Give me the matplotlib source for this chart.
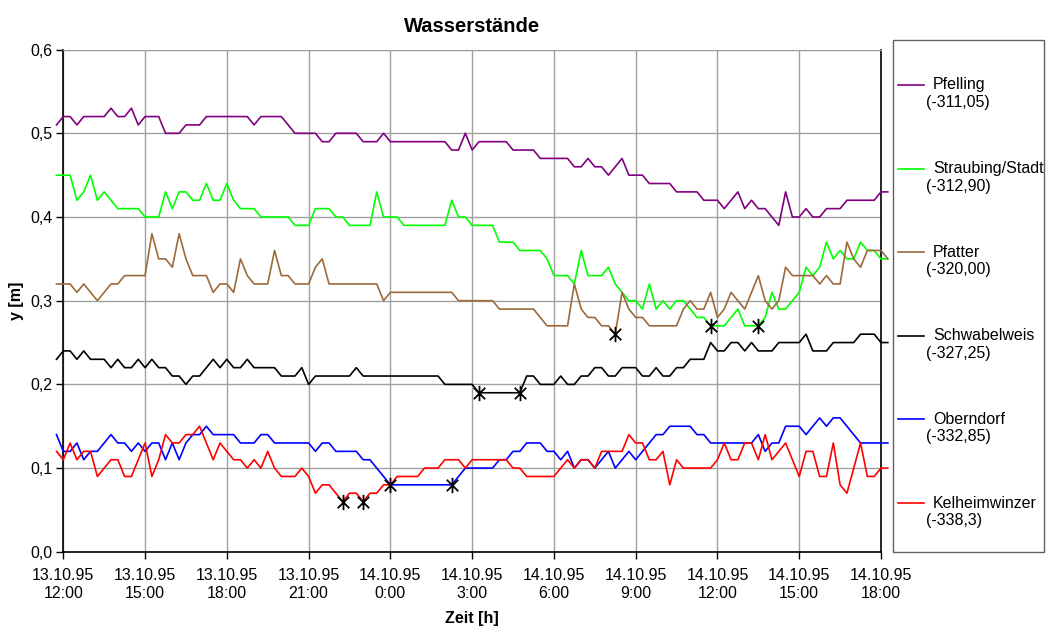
import numpy as np
import matplotlib
matplotlib.use("Agg")
import matplotlib.pyplot as plt
from matplotlib.lines import Line2D
from matplotlib.patches import Rectangle
from matplotlib.path import Path

plt.rcParams['font.family'] = ['Liberation Sans', 'DejaVu Sans']

# 15-minute readings, first one at 13.10.95 11:45, last at 14.10.95 18:15
pfelling = [0.51,
            0.52, 0.52, 0.51, 0.52, 0.52, 0.52, 0.52, 0.53, 0.52, 0.52, 0.53, 0.51,
            0.52, 0.52, 0.52, 0.50, 0.50, 0.50, 0.51, 0.51, 0.51, 0.52, 0.52, 0.52,
            0.52, 0.52, 0.52, 0.52, 0.51, 0.52, 0.52, 0.52, 0.52, 0.51, 0.50, 0.50,
            0.50, 0.50, 0.49, 0.49, 0.50, 0.50, 0.50, 0.50, 0.49, 0.49, 0.49, 0.50,
            0.49, 0.49, 0.49, 0.49, 0.49, 0.49, 0.49, 0.49, 0.49, 0.48, 0.48, 0.50,
            0.48, 0.49, 0.49, 0.49, 0.49, 0.49, 0.48, 0.48, 0.48, 0.48, 0.47, 0.47,
            0.47, 0.47, 0.47, 0.46, 0.46, 0.47, 0.46, 0.46, 0.45, 0.46, 0.47, 0.45,
            0.45, 0.45, 0.44, 0.44, 0.44, 0.44, 0.43, 0.43, 0.43, 0.43, 0.42, 0.42,
            0.42, 0.41, 0.42, 0.43, 0.41, 0.42, 0.41, 0.41, 0.40, 0.39, 0.43, 0.40,
            0.40, 0.41, 0.40, 0.40, 0.41, 0.41, 0.41, 0.42, 0.42, 0.42, 0.42, 0.42,
            0.43, 0.43]

straubing = [0.45,
             0.45, 0.45, 0.42, 0.43, 0.45, 0.42, 0.43, 0.42, 0.41, 0.41, 0.41, 0.41,
             0.40, 0.40, 0.40, 0.43, 0.41, 0.43, 0.43, 0.42, 0.42, 0.44, 0.42, 0.42,
             0.44, 0.42, 0.41, 0.41, 0.41, 0.40, 0.40, 0.40, 0.40, 0.40, 0.39, 0.39,
             0.39, 0.41, 0.41, 0.41, 0.40, 0.40, 0.39, 0.39, 0.39, 0.39, 0.43, 0.40,
             0.40, 0.40, 0.39, 0.39, 0.39, 0.39, 0.39, 0.39, 0.39, 0.42, 0.40, 0.40,
             0.39, 0.39, 0.39, 0.39, 0.37, 0.37, 0.37, 0.36, 0.36, 0.36, 0.36, 0.35,
             0.33, 0.33, 0.33, 0.32, 0.36, 0.33, 0.33, 0.33, 0.34, 0.32, 0.31, 0.30,
             0.30, 0.29, 0.32, 0.29, 0.30, 0.29, 0.30, 0.30, 0.29, 0.28, 0.28, 0.27,
             0.27, 0.27, 0.28, 0.29, 0.27, 0.27, 0.27, 0.28, 0.31, 0.29, 0.29, 0.30,
             0.31, 0.34, 0.33, 0.34, 0.37, 0.35, 0.36, 0.35, 0.35, 0.37, 0.36, 0.36,
             0.35, 0.35]

pfatter = [0.32,
           0.32, 0.32, 0.31, 0.32, 0.31, 0.30, 0.31, 0.32, 0.32, 0.33, 0.33, 0.33,
           0.33, 0.38, 0.35, 0.35, 0.34, 0.38, 0.35, 0.33, 0.33, 0.33, 0.31, 0.32,
           0.32, 0.31, 0.35, 0.33, 0.32, 0.32, 0.32, 0.36, 0.33, 0.33, 0.32, 0.32,
           0.32, 0.34, 0.35, 0.32, 0.32, 0.32, 0.32, 0.32, 0.32, 0.32, 0.32, 0.30,
           0.31, 0.31, 0.31, 0.31, 0.31, 0.31, 0.31, 0.31, 0.31, 0.31, 0.30, 0.30,
           0.30, 0.30, 0.30, 0.30, 0.29, 0.29, 0.29, 0.29, 0.29, 0.29, 0.28, 0.27,
           0.27, 0.27, 0.27, 0.32, 0.29, 0.28, 0.28, 0.27, 0.27, 0.26, 0.31, 0.29,
           0.28, 0.28, 0.27, 0.27, 0.27, 0.27, 0.27, 0.29, 0.30, 0.29, 0.29, 0.31,
           0.28, 0.29, 0.31, 0.30, 0.29, 0.31, 0.33, 0.30, 0.29, 0.30, 0.34, 0.33,
           0.33, 0.33, 0.33, 0.32, 0.33, 0.32, 0.32, 0.37, 0.35, 0.34, 0.36, 0.36,
           0.36, 0.35]

schwabelweis = [0.23,
                0.24, 0.24, 0.23, 0.24, 0.23, 0.23, 0.23, 0.22, 0.23, 0.22, 0.22, 0.23,
                0.22, 0.23, 0.22, 0.22, 0.21, 0.21, 0.20, 0.21, 0.21, 0.22, 0.23, 0.22,
                0.23, 0.22, 0.22, 0.23, 0.22, 0.22, 0.22, 0.22, 0.21, 0.21, 0.21, 0.22,
                0.20, 0.21, 0.21, 0.21, 0.21, 0.21, 0.21, 0.22, 0.21, 0.21, 0.21, 0.21,
                0.21, 0.21, 0.21, 0.21, 0.21, 0.21, 0.21, 0.21, 0.20, 0.20, 0.20, 0.20,
                0.20, 0.19, 0.19, 0.19, 0.19, 0.19, 0.19, 0.19, 0.21, 0.21, 0.20, 0.20,
                0.20, 0.21, 0.20, 0.20, 0.21, 0.21, 0.22, 0.22, 0.21, 0.21, 0.22, 0.22,
                0.22, 0.21, 0.21, 0.22, 0.21, 0.21, 0.22, 0.22, 0.23, 0.23, 0.23, 0.25,
                0.24, 0.24, 0.25, 0.25, 0.24, 0.25, 0.24, 0.24, 0.24, 0.25, 0.25, 0.25,
                0.25, 0.26, 0.24, 0.24, 0.24, 0.25, 0.25, 0.25, 0.25, 0.26, 0.26, 0.26,
                0.25, 0.25]

oberndorf = [0.14,
             0.12, 0.12, 0.13, 0.11, 0.12, 0.12, 0.13, 0.14, 0.13, 0.13, 0.12, 0.13,
             0.12, 0.13, 0.13, 0.11, 0.13, 0.11, 0.13, 0.14, 0.14, 0.15, 0.14, 0.14,
             0.14, 0.14, 0.13, 0.13, 0.13, 0.14, 0.14, 0.13, 0.13, 0.13, 0.13, 0.13,
             0.13, 0.12, 0.13, 0.13, 0.12, 0.12, 0.12, 0.12, 0.11, 0.11, 0.10, 0.09,
             0.08, 0.08, 0.08, 0.08, 0.08, 0.08, 0.08, 0.08, 0.08, 0.08, 0.09, 0.10,
             0.10, 0.10, 0.10, 0.10, 0.11, 0.11, 0.12, 0.12, 0.13, 0.13, 0.13, 0.12,
             0.12, 0.11, 0.12, 0.10, 0.11, 0.11, 0.10, 0.11, 0.12, 0.10, 0.11, 0.12,
             0.11, 0.12, 0.13, 0.14, 0.14, 0.15, 0.15, 0.15, 0.15, 0.14, 0.14, 0.13,
             0.13, 0.13, 0.13, 0.13, 0.13, 0.13, 0.14, 0.12, 0.13, 0.13, 0.15, 0.15,
             0.15, 0.14, 0.15, 0.16, 0.15, 0.16, 0.16, 0.15, 0.14, 0.13, 0.13, 0.13,
             0.13, 0.13]

kelheimwinzer = [0.12,
                 0.11, 0.13, 0.11, 0.12, 0.12, 0.09, 0.10, 0.11, 0.11, 0.09, 0.09, 0.11,
                 0.13, 0.09, 0.11, 0.14, 0.13, 0.13, 0.14, 0.14, 0.15, 0.13, 0.11, 0.13,
                 0.12, 0.11, 0.11, 0.10, 0.11, 0.10, 0.12, 0.10, 0.09, 0.09, 0.09, 0.10,
                 0.09, 0.07, 0.08, 0.08, 0.07, 0.06, 0.07, 0.07, 0.06, 0.07, 0.07, 0.08,
                 0.08, 0.09, 0.09, 0.09, 0.09, 0.10, 0.10, 0.10, 0.11, 0.11, 0.11, 0.10,
                 0.11, 0.11, 0.11, 0.11, 0.11, 0.11, 0.10, 0.10, 0.09, 0.09, 0.09, 0.09,
                 0.09, 0.10, 0.11, 0.10, 0.11, 0.11, 0.10, 0.12, 0.12, 0.12, 0.12, 0.14,
                 0.13, 0.13, 0.11, 0.11, 0.12, 0.08, 0.11, 0.10, 0.10, 0.10, 0.10, 0.10,
                 0.11, 0.13, 0.11, 0.11, 0.13, 0.13, 0.11, 0.14, 0.11, 0.12, 0.13, 0.11,
                 0.09, 0.12, 0.12, 0.09, 0.09, 0.13, 0.08, 0.07, 0.10, 0.13, 0.09, 0.09,
                 0.10, 0.10]

# marked (filled-in) readings, hours after 13.10.95 12:00
star_hours = [10.25, 11.0, 12.0, 14.25, 15.25, 16.75, 20.25, 23.75, 25.5]
star_values = [0.06, 0.06, 0.08, 0.08, 0.19, 0.19, 0.26, 0.27, 0.27]

names = ["Pfelling", "Straubing/Stadt", "Pfatter", "Schwabelweis", "Oberndorf", "Kelheimwinzer"]
offsets = ["(-311,05)", "(-312,90)", "(-320,00)", "(-327,25)", "(-332,85)", "(-338,3)"]
colors = ["#800080", "#00ff00", "#9c6a3a", "#000000", "#0000ff", "#ff0000"]

tick_labels = ["13.10.95\n12:00", "13.10.95\n15:00", "13.10.95\n18:00", "13.10.95\n21:00",
               "14.10.95\n0:00", "14.10.95\n3:00", "14.10.95\n6:00", "14.10.95\n9:00",
               "14.10.95\n12:00", "14.10.95\n15:00", "14.10.95\n18:00"]

series = [pfelling, straubing, pfatter, schwabelweis, oberndorf, kelheimwinzer]
hours = np.arange(len(pfelling)) * 0.25 - 0.25

# excel style star: an X with a vertical bar through it
star = Path([(0, -1), (0, 1), (-0.75, -0.75), (0.75, 0.75), (-0.75, 0.75), (0.75, -0.75)],
            [Path.MOVETO, Path.LINETO] * 3)

fig = plt.figure(figsize=(10.48, 6.28), dpi=100)
ax = fig.add_axes([63.3 / 1048, 1 - 551.8 / 628, 817.7 / 1048, 502.2 / 628])

for vals, c in zip(series, colors):
    ax.plot(hours, vals, color=c, lw=1.2, clip_on=False, zorder=3)

ax.plot(star_hours, star_values, ls="none", marker=star, ms=11, mew=1.3,
        color="black", mfc="none", zorder=4, clip_on=False)

ax.set_xlim(0, 30)
ax.set_ylim(0, 0.6)
ax.set_xticks(np.arange(0, 31, 3))
ax.set_xticklabels(tick_labels, linespacing=1.25)
ax.set_yticks(np.arange(0, 0.61, 0.1))
ax.set_yticklabels([f"{v:.1f}".replace(".", ",") for v in np.arange(0, 0.61, 0.1)])
ax.tick_params(labelsize=11.5, length=5, width=1, direction="out")
ax.tick_params(axis="x", pad=7)
ax.tick_params(axis="y", pad=3)
ax.grid(True, color="#a0a0a0", lw=1)
ax.set_axisbelow(True)
for s in ["left", "bottom", "right"]:
    ax.spines[s].set_color("black")
    ax.spines[s].set_linewidth(1.2)
ax.spines["top"].set_color("#a0a0a0")

ax.set_title("Wasserstände", fontsize=14.5, fontweight="bold", pad=13)
ax.set_xlabel("Zeit [h]", fontsize=11.5, fontweight="bold", labelpad=7)
ax.set_ylabel("y [m]", fontsize=11.5, fontweight="bold", labelpad=4)

# legend drawn by hand so the line sits on the first text row
fig.patches.append(Rectangle((893 / 1048, 1 - 552 / 628), 151 / 1048, 512 / 628,
                             transform=fig.transFigure, fill=False,
                             edgecolor="#606060", lw=1))
for k, (n, o, c) in enumerate(zip(names, offsets, colors)):
    y0 = 85 + k * 83.6
    fig.lines.append(Line2D([898 / 1048, 924 / 1048], [1 - y0 / 628, 1 - y0 / 628],
                            transform=fig.transFigure, color=c, lw=1.2))
    fig.text(933 / 1048, 1 - y0 / 628, n, fontsize=11.5, va="center")
    fig.text(926 / 1048, 1 - (y0 + 17.5) / 628, o, fontsize=11.5, va="center")

fig.savefig("out.png", dpi=100)
